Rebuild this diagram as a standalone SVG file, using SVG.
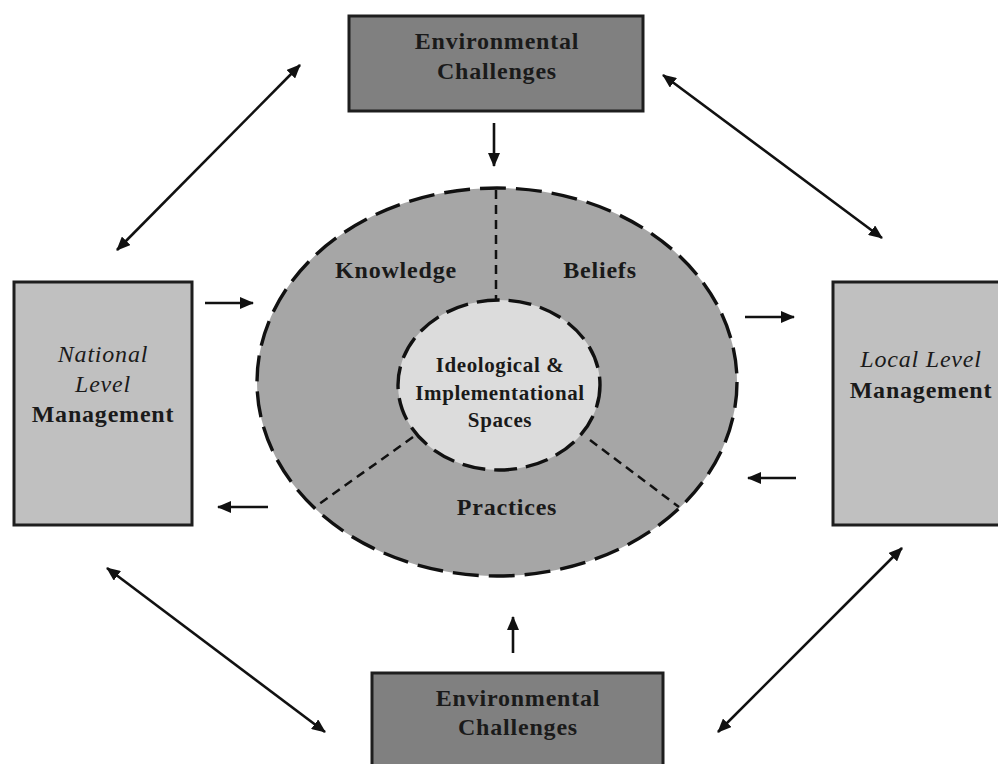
<svg xmlns="http://www.w3.org/2000/svg" width="998" height="764" viewBox="0 0 998 764">
  <style>
    .box { stroke: #1e1e1e; stroke-width: 3; }
    .env { fill: #808080; }
    .mgmt { fill: #c0c0c0; }
    .lbl { font-family: "Liberation Serif", "Times New Roman", serif; font-weight: bold; font-size: 24px; letter-spacing: 0.8px; fill: #1a1a1a; text-anchor: middle; }
    .ital { font-style: italic; font-weight: normal; }
    .small { font-size: 21px; letter-spacing: 0.6px; }
    .conn { stroke: #111; stroke-width: 2.6; fill: none; }
    .div { stroke: #111; stroke-width: 2.5; stroke-dasharray: 9 6; fill: none; }
    .ring { stroke: #111; stroke-width: 3.4; }
  </style>
  <defs>
    <marker id="head" viewBox="0 0 14 12" refX="13" refY="6" markerWidth="14" markerHeight="12" markerUnits="userSpaceOnUse" orient="auto-start-reverse">
      <path d="M0,0 L14,6 L0,12 z" fill="#111"/>
    </marker>
  </defs>
  <rect width="998" height="764" fill="#ffffff"/>

  <!-- central ellipse: knowledge / beliefs / practices around the inner core -->
  <g id="core">
    <ellipse class="ring" cx="497" cy="382" rx="240" ry="194" fill="#a6a6a6" stroke-dasharray="26 10"/>
    <line class="div" x1="496" y1="190" x2="496" y2="300"/>
    <line class="div" x1="413" y1="437" x2="315" y2="507"/>
    <line class="div" x1="590" y1="440" x2="679" y2="507"/>
    <ellipse class="ring" cx="499" cy="385" rx="101" ry="85" fill="#dcdcdc" stroke-dasharray="23 9"/>
    <text class="lbl" x="396" y="278">Knowledge</text>
    <text class="lbl" x="600" y="278">Beliefs</text>
    <text class="lbl" x="507" y="515">Practices</text>
    <text class="lbl small" x="500" y="372">Ideological &amp;</text>
    <text class="lbl small" x="500" y="400">Implementational</text>
    <text class="lbl small" x="500" y="427">Spaces</text>
  </g>

  <g id="env-top">
    <rect class="box env" x="349" y="16" width="294" height="95"/>
    <text class="lbl" x="497" y="49">Environmental</text>
    <text class="lbl" x="497" y="79">Challenges</text>
  </g>

  <g id="env-bottom">
    <rect class="box env" x="372" y="673" width="291" height="110"/>
    <text class="lbl" x="518" y="706">Environmental</text>
    <text class="lbl" x="518" y="735">Challenges</text>
  </g>

  <g id="national">
    <rect class="box mgmt" x="14" y="282" width="178" height="243"/>
    <text class="lbl ital" x="103" y="362">National</text>
    <text class="lbl ital" x="103" y="392">Level</text>
    <text class="lbl" x="103" y="422">Management</text>
  </g>

  <g id="local">
    <rect class="box mgmt" x="833" y="282" width="185" height="243"/>
    <text class="lbl ital" x="921" y="367">Local Level</text>
    <text class="lbl" x="921" y="398">Management</text>
  </g>

  <g id="connectors">
    <line class="conn" x1="494" y1="123" x2="494" y2="166" marker-end="url(#head)"/>
    <line class="conn" x1="513" y1="653" x2="513" y2="617" marker-end="url(#head)"/>
    <line class="conn" x1="205" y1="303" x2="253" y2="303" marker-end="url(#head)"/>
    <line class="conn" x1="268" y1="507" x2="218" y2="507" marker-end="url(#head)"/>
    <line class="conn" x1="745" y1="317" x2="794" y2="317" marker-end="url(#head)"/>
    <line class="conn" x1="796" y1="478" x2="748" y2="478" marker-end="url(#head)"/>
    <line class="conn" x1="117" y1="250" x2="300" y2="65" marker-start="url(#head)" marker-end="url(#head)"/>
    <line class="conn" x1="663" y1="75" x2="882" y2="238" marker-start="url(#head)" marker-end="url(#head)"/>
    <line class="conn" x1="107" y1="568" x2="325" y2="732" marker-start="url(#head)" marker-end="url(#head)"/>
    <line class="conn" x1="718" y1="732" x2="902" y2="548" marker-start="url(#head)" marker-end="url(#head)"/>
  </g>
</svg>
